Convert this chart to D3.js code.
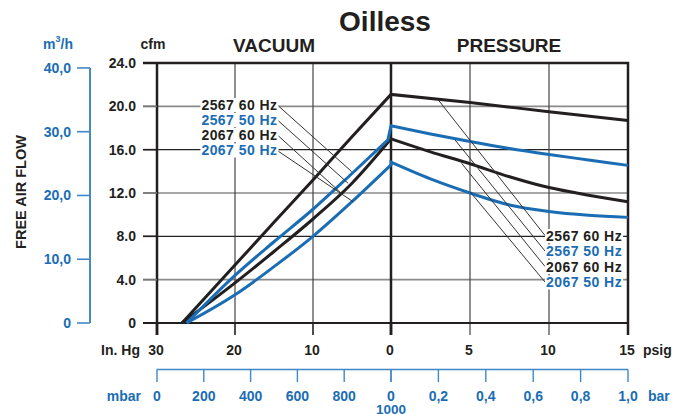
<!DOCTYPE html>
<meta charset="utf-8">
<body style="margin:0;background:#fff">
<script src="https://d3js.org/d3.v7.min.js"></script>
<script>

// ---- data ----
var names = ['2567 60 Hz', '2567 50 Hz', '2067 60 Hz', '2067 50 Hz'];

// vacuum side: [in. Hg, cfm]
var vac2567_60 = [[26.8, 0], [20, 5.35], [15, 9.3], [10, 13.2], [5, 17.2], [0, 21.1]];
var vac2567_50 = [[26.2, 0], [20, 4.4], [15, 7.5], [10, 10.5], [5, 13.8], [0.4, 16.9]];
var vac2067_60 = [[26.8, 0], [20, 3.7], [15, 6.6], [10, 9.6], [5, 12.9], [0, 17.0]];
var vac2067_50 = [[26.2, 0], [20, 2.6], [15, 5.2], [10, 8.0], [5, 11.2], [0, 14.6]];

// pressure side: [psig, cfm]
var pr2567_60 = [[0, 21.1], [5, 20.35], [10, 19.5], [15, 18.7]];
var pr2567_50 = [[0, 18.2], [2.5, 17.45], [5, 16.75], [7.5, 16.1], [10, 15.55], [12.5, 15.05], [15, 14.55]];
var pr2067_60 = [[0, 17.0], [2.5, 15.8], [5, 14.7], [7.5, 13.5], [10, 12.5], [12.5, 11.8], [15, 11.2]];
var pr2067_50 = [[0, 14.85], [2.5, 13.3], [5, 12.0], [7.5, 10.9], [10, 10.3], [12.5, 9.95], [15, 9.75]];

// axis ticks
var cfmTicks = [0, 4, 8, 12, 16, 20, 24];
var m3hTicks = [0, 10, 20, 30, 40];
var inHgTicks = [30, 20, 10, 0];
var psigTicks = [5, 10, 15];
var mbarTicks = [0, 200, 400, 600, 800];
var barTicks = [0, 0.2, 0.4, 0.6, 0.8, 1.0];
var CFM_TO_M3H = 1.699;

// leader line ends (vacuum side, in. Hg / cfm) and starts (pressure side, psig / cfm)
var leftLeaderEnds = [[5.04, 13.97], [5.5, 12.9], [6.37, 11.97], [4.87, 11.2]];
var rightLeaderStarts = [[3.0, 20.58], [4.05, 16.9], [4.47, 14.74], [5.0, 12.12]];

// ---- drawing ----
var VP = { w: 689, h: 414 };
var BLACK = '#231f20', BLUE = '#1a6db4', LBLUE = '#3f88c8';
var FONT = 'Liberation Sans, Arial, Helvetica, sans-serif';
var colors = [BLACK, BLUE, BLACK, BLUE];

var svg = d3.select('body')
  .append('svg')
  .attr('width', VP.w)
  .attr('height', VP.h)
  .style('display', 'block');

var xVac = d3.scaleLinear().domain([30, 0]).range([157, 391]);
var xPr = d3.scaleLinear().domain([0, 15]).range([391, 628]);
var y = d3.scaleLinear().domain([0, 24]).range([323, 63]);
var yM = d3.scaleLinear().domain([0, 24 * CFM_TO_M3H]).range([323, 63]);
var xMbar = d3.scaleLinear().domain([0, 1000]).range([157, 391]);
var xBar = d3.scaleLinear().domain([0, 1]).range([391, 628]);

var txt = (t, x, yy, o) => {
  o = o || {};
  return svg.append('text')
    .text(t)
    .attr('x', x)
    .attr('y', yy)
    .attr('font-family', FONT)
    .attr('font-weight', o.weight || 'bold')
    .attr('font-size', o.size || 14)
    .attr('fill', o.fill || BLACK)
    .attr('text-anchor', o.anchor || 'middle')
    .attr('dominant-baseline', o.base || 'central');
}
var ln = (x1, y1, x2, y2, c, w) => svg.append('line')
  .attr('x1', x1).attr('y1', y1).attr('x2', x2).attr('y2', y2)
  .attr('stroke', c).attr('stroke-width', w);

// grid
cfmTicks.filter(v => v > 0 && v < 24).forEach(v => {
  var dark = (v === 8 || v === 16);
  ln(143, y(v), 628, y(v), dark ? '#222' : '#8a8a8a', dark ? 1.1 : 1.6);
});
inHgTicks.filter(v => v > 0 && v < 30).forEach(v => ln(xVac(v), 63, xVac(v), 335, '#444', 1.2));
psigTicks.filter(v => v < 15).forEach(v => ln(xPr(v), 63, xPr(v), 335, '#444', 1.2));

// frame
ln(143, y(0), 628, y(0), BLACK, 2);
ln(143, y(24), 629, y(24), BLACK, 2.5);
ln(xVac(30), 62, xVac(30), 335, BLACK, 2.5);
ln(xVac(0), 62, xVac(0), 335, BLACK, 2.5);
ln(xPr(15), 62, xPr(15), 335, BLACK, 2.5);

// curves
var lineV = d3.line().x(d => xVac(d[0])).y(d => y(d[1])).curve(d3.curveMonotoneX);
var lineP = d3.line().x(d => xPr(d[0])).y(d => y(d[1])).curve(d3.curveMonotoneX);
var vacs = [vac2567_60, vac2567_50, vac2067_60, vac2067_50];
var prs = [pr2567_60, pr2567_50, pr2067_60, pr2067_50];
[3, 2, 1, 0].forEach(i => {
  svg.append('path')
    .attr('d', lineV(vacs[i]) + lineP(prs[i]).replace(/^M/, 'L'))
    .attr('fill', 'none')
    .attr('stroke', colors[i])
    .attr('stroke-width', 3)
    .attr('stroke-linejoin', 'miter');
});

// leader lines
var leftY = [104.5, 119.5, 134.5, 150];
var rightY = [235.5, 251, 266.5, 282];
leftLeaderEnds.forEach((e, i) => ln(278, leftY[i] + 1, xVac(e[0]), y(e[1]), '#333', 1));
rightLeaderStarts.forEach((s, i) => ln(xPr(s[0]), y(s[1]), 545, rightY[i], '#333', 1));

// series labels with white boxes
var label = (t, x, yy, anchor, c) => {
  var el = txt(t, x, yy, { size: 14, anchor: anchor, fill: c })
    .attr('letter-spacing', 0.45);
  var b = el.node().getBBox();
  svg.insert('rect', function () { return el.node(); })
    .attr('x', b.x - 1).attr('y', b.y + 1.5)
    .attr('width', b.width + 2).attr('height', b.height - 2)
    .attr('fill', '#fff');
}
names.forEach((n, i) => label(n, 277.5, leftY[i], 'end', colors[i]));
names.forEach((n, i) => label(n, 546, rightY[i], 'start', colors[i]));

// left cfm axis
cfmTicks.forEach(v => {
  ln(143, y(v), 157, y(v), v % 8 === 0 ? BLACK : '#777', 1.6);
  txt(v === 0 ? '0' : d3.format('.1f')(v), 136, y(v), { anchor: 'end' });
});
txt('cfm', 153, 44, { anchor: 'middle' });

// m3/h axis
ln(90, yM(40), 90, yM(0), BLUE, 1.6);
m3hTicks.forEach(v => {
  ln(77, yM(v), 90, yM(v), LBLUE, 1.6);
  txt(v === 0 ? '0' : d3.format('.1f')(v).replace('.', ','), 71, yM(v), { anchor: 'end', fill: BLUE });
});
var mh = txt('m', 58, 44, { anchor: 'middle', fill: BLUE });
mh.text(null);
mh.append('tspan').text('m');
mh.append('tspan').text('3').attr('font-size', 9).attr('dy', -5);
mh.append('tspan').text('/h').attr('dy', 5);

txt('FREE AIR FLOW', 0, 0, { size: 14.5 })
  .attr('transform', 'translate(21,192) rotate(-90)');

// bottom axes
inHgTicks.forEach(v => ln(xVac(v), 323, xVac(v), 335, BLACK, (v === 30 || v === 0) ? 2.5 : 1.2));
inHgTicks.forEach(v => txt(String(v), xVac(v) - 1, 350));
psigTicks.forEach(v => txt(String(v), xPr(v) - 1, 350));
txt('In. Hg', 140, 350, { anchor: 'end' });
txt('psig', 643, 350, { anchor: 'start' });

ln(157, 369.5, 628, 369.5, LBLUE, 1.6);
mbarTicks.concat([1000]).forEach(v => ln(xMbar(v), 369.5, xMbar(v), 382, LBLUE, 1.4));
barTicks.forEach(v => ln(xBar(v), 369.5, xBar(v), 382, LBLUE, 1.4));
mbarTicks.forEach(v => txt(String(v), xMbar(v), 395.5, { fill: BLUE }));
barTicks.forEach(v => txt(v === 0 ? '0' : d3.format('.1f')(v).replace('.', ','), xBar(v), 395.5, { fill: BLUE }));
txt('1000', xMbar(1000), 409.5, { fill: BLUE, size: 13.5 });
txt('mbar', 141, 395.5, { anchor: 'end', fill: BLUE });
txt('bar', 648, 395.5, { anchor: 'start', fill: BLUE });

// titles
txt('Oilless', 385, 31, { size: 28, base: 'alphabetic' });
txt('VACUUM', 274, 52, { size: 19, base: 'alphabetic' });
txt('PRESSURE', 509, 52, { size: 19, base: 'alphabetic' });

</script>
</body>
</html>
